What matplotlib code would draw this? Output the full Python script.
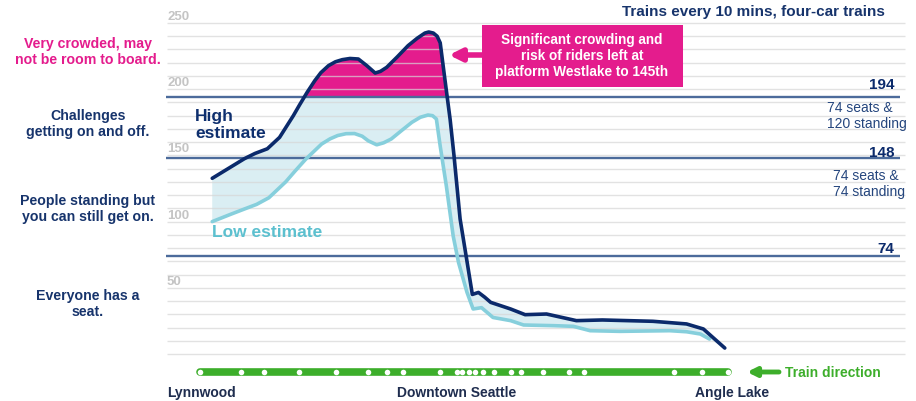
import numpy as np
import matplotlib.pyplot as plt
from matplotlib.patches import Rectangle

plt.rcParams['font.family'] = ['Liberation Sans', 'DejaVu Sans']

# stations, miles from Lynnwood
stations = [0.0, 2.7, 4.2, 6.5, 8.9, 11.0, 12.2, 13.3, 15.7, 16.8, 17.1, 17.6,
            18.0, 18.5, 19.2, 20.3, 21.0, 22.4, 24.1, 25.1, 31.0, 32.8, 34.5]
station_labels = {'Lynnwood': 0.1, 'Downtown Seattle': 16.8, 'Angle Lake': 34.8}

# riders per car, high estimate
high_x = [0.8, 2.9, 3.6, 4.4, 5.2, 6.1, 6.5, 7.0, 7.5, 7.9, 8.4, 8.85, 9.3, 9.8,
          10.35, 10.9, 11.45, 11.8, 12.2, 12.9, 13.6, 14.2, 14.7, 14.95, 15.25, 15.5,
          15.7, 16.0, 16.35, 16.6, 17.0, 17.45, 17.8, 18.2, 18.6, 19.0, 20.3, 21.25,
          22.65, 24.6, 26.3, 29.6, 31.8, 32.9, 34.3]
high_y = [132.7, 147.5, 151.5, 155, 163.6, 180, 188, 197.6, 206.4, 212.5, 217.8,
          220.7, 222.3, 223.2, 222.8, 217.8, 212.2, 213.5, 216.5, 224.5, 232.9, 238.5,
          242.4, 243.2, 242.4, 240, 235, 208, 177, 150, 102, 70, 45, 46.5, 43, 39, 34,
          29.7, 30.2, 25.2, 25.7, 24.7, 22.7, 18.9, 4.5]

# riders per car, low estimate
low_x = [0.8, 2.0, 2.9, 3.7, 4.5, 5.6, 6.2, 6.9, 7.95, 8.5, 9.0, 9.55, 10.1, 10.6,
         11.0, 11.55, 12.0, 12.5, 13.2, 13.85, 14.4, 14.9, 15.2, 15.45, 15.7, 16.1,
         16.55, 16.9, 17.45, 17.85, 18.4, 19.15, 20.3, 21.15, 23.1, 24.4, 25.5, 27.45,
         30.7, 31.8, 32.7, 33.3]
low_y = [100, 105.5, 109.5, 113, 118, 130, 138, 147, 158.6, 162.5, 165, 166.4, 166.5,
         164.5, 161, 158, 159.5, 162.4, 169, 175, 178.8, 180.5, 180, 177.5, 157, 127,
         89, 69, 46.6, 34, 35, 27.6, 25.2, 21.9, 21.4, 20.9, 17.6, 17.1, 17.6, 16.8,
         15.1, 11.3]

capacity = [194, 148, 74]
capacity_notes = ['74 seats &\n120 standing', '74 seats &\n74 standing', '']
levels = ['Very crowded, may\nnot be room to board.', 'Challenges\ngetting on and off.',
          'People standing but\nyou can still get on.', 'Everyone has a\nseat.']
yticks = [50, 100, 150, 200, 250]

navy = '#0b2a6b'
teal = '#86cfdc'
magenta = '#e41c8d'
green = '#3dae2b'
steel = '#4c6b9b'

# pixel -> data helpers (axes fill the whole figure)
def X(px):
    return (px - 200) / 15.3

def Y(py):
    return (355 - py) / 1.324

fig = plt.figure(figsize=(9.16, 4.02), dpi=100)
ax = fig.add_axes([0, 0, 1, 1])
ax.set_xlim(X(0), X(916))
ax.set_ylim(Y(402), Y(0))
ax.axis('off')

# fills
ax.fill(np.concatenate([high_x, low_x[::-1]]), np.concatenate([high_y, low_y[::-1]]),
        color='#daeef3', lw=0, zorder=1)
hx = np.array(high_x)
hy = np.array(high_y)
ax.fill_between(hx, hy, 194, where=hy > 194, interpolate=True, color=magenta, lw=0, zorder=1.5)

# grid
ax.hlines(np.arange(0, 251, 10), X(167), X(905), color='#d6d6d6', lw=1, alpha=0.7, zorder=2)
for t in yticks:
    ax.text(X(167), t + 5.3, str(t), ha='left', va='center', fontsize=9.5,
            fontweight='bold', color='#c4c4c4')

# capacity lines
ax.hlines(capacity, X(166), X(900), color=steel, lw=1.7, zorder=3)
num_py = [85, 153, 249]
note_py = [116, 184]
note_px = [827, 833]
for i, c in enumerate(capacity):
    ax.text(X(894), Y(num_py[i]), str(c), ha='right', va='center', fontsize=11,
            fontweight='bold', color=navy)
    if capacity_notes[i]:
        ax.text(X(note_px[i]), Y(note_py[i]), capacity_notes[i], ha='left', va='center',
                fontsize=10, color='#24457d', linespacing=1.1)

# curves
ax.plot(low_x, low_y, color=teal, lw=2.6, solid_joinstyle='round', solid_capstyle='round', zorder=4)
ax.plot(high_x, high_y, color=navy, lw=2.6, solid_joinstyle='round', solid_capstyle='round', zorder=4.5)

ax.text(X(195), Y(125), 'High\nestimate', ha='left', va='center', fontsize=12.5,
        fontweight='bold', color='#0e2f6e', linespacing=1.15)
ax.text(X(212), Y(233), 'Low estimate', ha='left', va='center', fontsize=12.5,
        fontweight='bold', color='#5cc0cf')

# left side descriptions
level_y = [52, 124, 209, 304]
for txt, py in zip(levels, level_y):
    ax.text(X(88), Y(py), txt, ha='center', va='center', fontsize=10.2, fontweight='bold',
            color=magenta if txt.startswith('Very') else '#17346c', linespacing=1.25)

ax.text(X(885), Y(12), 'Trains every 10 mins, four-car trains', ha='right', va='center',
        fontsize=11, fontweight='bold', color='#17346c')

# callout
ax.add_patch(Rectangle((X(482), Y(88)), X(683) - X(482), Y(26) - Y(88),
                       color=magenta, lw=0, zorder=5))
ax.text(X(582), Y(56), 'Significant crowding and\nrisk of riders left at\nplatform Westlake to 145th',
        ha='center', va='center', fontsize=9.8, fontweight='bold', color='white',
        linespacing=1.2, zorder=6)
ax.annotate('', xy=(X(449), Y(56)), xytext=(X(483), Y(56)),
            arrowprops=dict(arrowstyle='-|>', color=magenta, lw=4, mutation_scale=18,
                            shrinkA=0, shrinkB=0), zorder=5)

# line map
line_y = Y(373)
ax.plot([stations[0], stations[-1]], [line_y, line_y], color=green, lw=5.5,
        solid_capstyle='round', zorder=5)
ax.scatter(stations, [line_y] * len(stations), s=16, color='white', lw=0, zorder=6)
for name, x in station_labels.items():
    ax.text(x, Y(393), name, ha='center', va='center', fontsize=10, fontweight='bold',
            color='#1f2d4f')

ax.annotate('', xy=(X(747), line_y), xytext=(X(779), line_y),
            arrowprops=dict(arrowstyle='-|>', color=green, lw=3.5, mutation_scale=13,
                            shrinkA=0, shrinkB=0))
ax.text(X(785), line_y, 'Train direction', ha='left', va='center', fontsize=10,
        fontweight='bold', color=green)

fig.savefig('out.png', dpi=100)
